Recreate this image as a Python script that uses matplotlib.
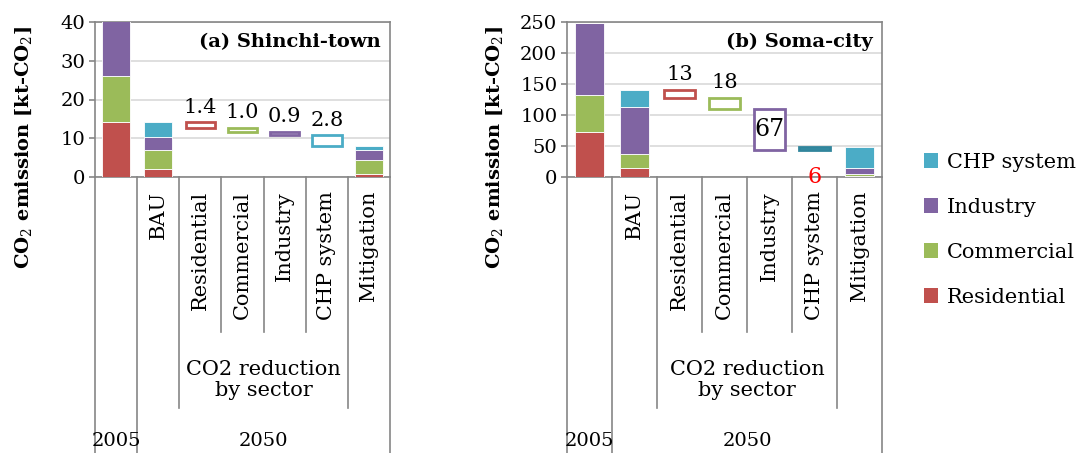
import matplotlib
matplotlib.use("Agg")
import matplotlib.pyplot as plt
from matplotlib.patches import Patch
from matplotlib.lines import Line2D

plt.rcParams["font.family"] = ["DejaVu Serif"]
plt.rcParams["mathtext.fontset"] = "dejavuserif"

# ---- data ----
sectors = ["Residential", "Commercial", "Industry", "CHP system"]
colors = ["#C0504D", "#9BBB59", "#8064A2", "#4BACC6"]
edge_colors = ["#C0504D", "#9BBB59", "#8064A2", "#31859C"]
tick_labels = ["", "BAU", "Residential", "Commercial", "Industry", "CHP system", "Mitigation"]

# stacked bars at 2005, BAU, Mitigation
a_res = [14.1, 2.0, 0.7]
a_com = [11.9, 4.9, 3.8]
a_ind = [14.5, 3.4, 2.4]
a_chp = [0.0, 3.8, 1.1]
a_cut = [1.4, 1.0, 0.9, 2.8]
a_cut_text = ["1.4", "1.0", "0.9", "2.8"]

b_res = [72, 14, 1.5]
b_com = [60, 23, 3.0]
b_ind = [117, 76, 9.5]
b_chp = [0, 28, 35]
b_cut = [13, 18, 67, -6]
b_cut_text = ["13", "18", "67", "6"]

FS = 14     # numbers
FT = 15     # words
GRAY = "#868686"


def draw_panel(ax, stacks, cuts, cut_text, ymax, ystep, title, label_mode, ylab_x):
    bar_x = [0, 1, 6]
    bottom = [0.0, 0.0, 0.0]
    for vals, c in zip(stacks, colors):
        ax.bar(bar_x, vals, bottom=bottom, width=0.66, color=c,
               edgecolor="white", linewidth=0.6, zorder=3)
        bottom = [b + v for b, v in zip(bottom, vals)]

    # floating reduction boxes
    level = bottom[1]
    for i, (r, txt) in enumerate(zip(cuts, cut_text)):
        lo, hi = min(level, level - r), max(level, level - r)
        x = 2 + i
        fc = colors[i] if r < 0 else "white"
        ax.bar(x, hi - lo, bottom=lo, width=0.7, facecolor=fc,
               edgecolor=edge_colors[i] if r < 0 else colors[i],
               linewidth=2, zorder=3)
        mode = label_mode[i]
        if mode == "above":
            ax.annotate(txt, (x, hi), xytext=(0, 4), textcoords="offset points",
                        ha="center", va="bottom", fontsize=FS + 1, zorder=4)
        elif mode == "inside":
            ax.text(x, (lo + hi) / 2, txt, ha="center", va="center",
                    fontsize=FS + 3, zorder=4)
        else:
            ax.text(x, 0, txt, ha="center", va="center", color="red",
                    fontsize=FS + 2, zorder=4, clip_on=False)
        level = level - r

    ax.set_xlim(-0.5, 6.5)
    ax.set_ylim(0, ymax)
    ax.set_yticks(range(0, ymax + 1, ystep))
    ax.yaxis.grid(True, color="#D9D9D9", linewidth=1.2, zorder=0)
    ax.set_axisbelow(True)
    for s in ax.spines.values():
        s.set_color(GRAY)
        s.set_linewidth(1.2)
    ax.tick_params(axis="y", labelsize=FS, color=GRAY, length=4, width=1.2, pad=3)
    ax.set_xticks(range(7))
    ax.set_xticklabels(tick_labels, rotation=90, fontsize=FT, va="top")
    ax.tick_params(axis="x", length=0, pad=10)
    ax.text(ylab_x, 0.19, r"CO$_2$ emission [kt-CO$_2$]", transform=ax.transAxes,
            rotation=90, ha="center", va="center", fontsize=FS,
            fontweight="bold")
    ax.text(0.97, 0.93, title, transform=ax.transAxes, ha="right", va="top",
            fontsize=FS, fontweight="bold", zorder=5,
            bbox=dict(facecolor="white", edgecolor="none", pad=1))

    # category separators below the axis
    tr = ax.get_xaxis_transform()
    seps = [(-0.5, -1.79), (0.5, -1.79), (1.5, -1.49), (2.5, -1.0),
            (3.5, -1.0), (4.5, -1.0), (5.5, -1.49), (6.5, -1.79)]
    for x, y_end in seps:
        ax.add_line(Line2D([x, x], [0, y_end], transform=tr, color=GRAY,
                           linewidth=1.2, clip_on=False))
    ax.text(3.5, -1.31, "CO2 reduction\nby sector", transform=tr, ha="center",
            va="center", fontsize=FT, linespacing=1.15)
    ax.text(0, -1.70, "2005", transform=tr, ha="center", va="center", fontsize=FS)
    ax.text(3.5, -1.70, "2050", transform=tr, ha="center", va="center", fontsize=FS)


fig = plt.figure(figsize=(10.83, 4.53), dpi=100)
ax1 = fig.add_axes([95 / 1083, 1 - 177 / 453, 295 / 1083, 155 / 453])
ax2 = fig.add_axes([567 / 1083, 1 - 177 / 453, 315 / 1083, 155 / 453])

draw_panel(ax1, [a_res, a_com, a_ind, a_chp], a_cut, a_cut_text, 40, 10,
           "(a) Shinchi-town", ["above"] * 4, -0.24)
draw_panel(ax2, [b_res, b_com, b_ind, b_chp], b_cut, b_cut_text, 250, 50,
           "(b) Soma-city", ["above", "above", "inside", "zero"], -0.23)

handles = [Patch(facecolor=c, edgecolor="none") for c in colors]
fig.legend(handles[::-1], sectors[::-1], loc="center left",
           bbox_to_anchor=(905 / 1083, 1 - 230 / 453), frameon=False,
           fontsize=FT, handlelength=0.7, handleheight=0.7, handletextpad=0.4,
           labelspacing=1.25)

fig.savefig("out.png", dpi=100)
